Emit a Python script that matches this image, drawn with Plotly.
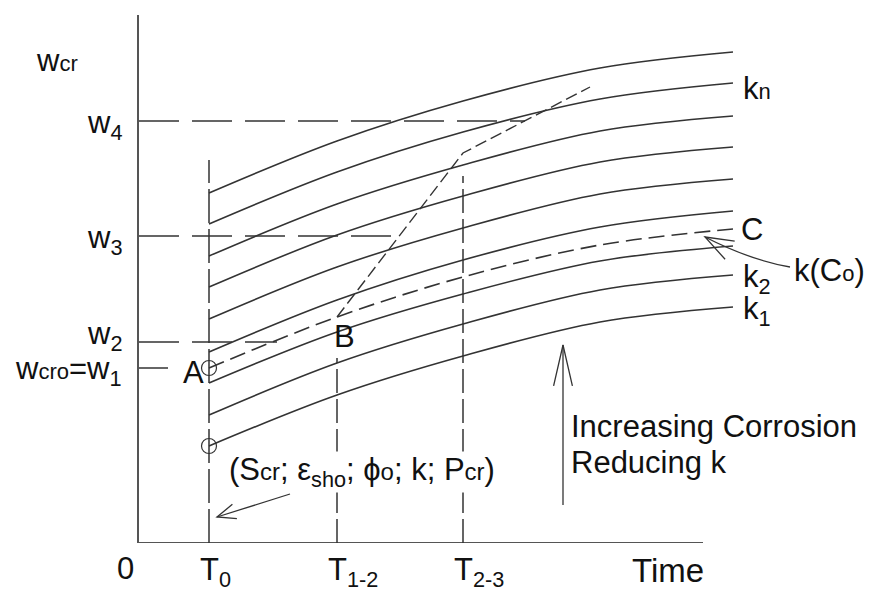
import math
import plotly.graph_objects as go

# Time stations along each crack-width curve (T0 ... end of curves)
time_pts = [70, 198, 324, 461, 594]

# Crack width w_cr(t) for each corrosion level, bottom (k1) to top
k_1 = [97, 148, 187, 221, 236]
k_2 = [128, 180, 219, 253, 268]
k_3 = [160, 211, 249, 282, 297]
k_co = [175, 226, 266, 298, 314]   # initial corrosion level k(Co), dashed
k_4 = [191, 243, 283, 316, 332]
k_5 = [224, 276, 315, 349, 364]
k_6 = [256, 308, 347, 381, 396]
k_7 = [287, 339, 378, 412, 427]
k_n = [319, 371, 411, 444, 460]
k_top = [350, 402, 442, 475, 491]
solid_curves = [k_1, k_2, k_3, k_4, k_5, k_6, k_7, k_n, k_top]

# Characteristic times and crack widths
T0, T12, T23 = 70, 198, 324
w1, w2, w3, w4 = 175, 201, 307, 422

# Crack-width path B -> kink at T2-3 -> upper end
path_t = [198, 324, 451]
path_w = [226, 390, 456]

# Initial points on T0 (A on k(Co), lowest curve k1)
start_t = [T0, T0]
start_w = [k_co[0], k_1[0]]

FONT = "Liberation Sans, Arial, sans-serif"
INK = "#333333"
AXIS = "#555555"
TXT = "#111111"
FS = 31
SMALL = 22

X_SPAN = 732.0   # x axis range width
Y_SPAN = 528.0   # y axis range height

fig = go.Figure()

for ys in solid_curves:
    fig.add_trace(go.Scatter(x=time_pts, y=ys, mode="lines",
                             line=dict(color=INK, width=1.6, shape="spline", smoothing=1.0),
                             hoverinfo="skip", showlegend=False))

fig.add_trace(go.Scatter(x=time_pts, y=k_co, mode="lines",
                         line=dict(color=INK, width=1.6, shape="spline", smoothing=1.0,
                                   dash="16px,7px"),
                         hoverinfo="skip", showlegend=False))

fig.add_trace(go.Scatter(x=path_t, y=path_w, mode="lines",
                         line=dict(color=INK, width=1.4, dash="12px,5px"),
                         hoverinfo="skip", showlegend=False))

fig.add_trace(go.Scatter(x=start_t, y=start_w, mode="markers",
                         marker=dict(symbol="circle-open", size=15,
                                     line=dict(color=INK, width=1.2), color=INK),
                         hoverinfo="skip", showlegend=False, cliponaxis=False))

shapes = []


def seg(x0, y0, x1, y1, dash=None, width=1.5, color=INK):
    line = dict(color=color, width=width)
    if dash:
        line["dash"] = dash
    shapes.append(dict(type="line", xref="x", yref="y", x0=x0, y0=y0, x1=x1, y1=y1,
                       line=line, layer="above"))


def v_head(tip, tail, length, half_angle_deg):
    """Open V arrowhead at tip, pointing away from tail."""
    dx, dy = tip[0] - tail[0], tip[1] - tail[1]
    n = math.hypot(dx, dy)
    ux, uy = dx / n, dy / n
    a = math.radians(half_angle_deg)
    pts = []
    for s in (1, -1):
        ca, sa = math.cos(s * a), math.sin(s * a)
        rx = ux * ca - uy * sa
        ry = ux * sa + uy * ca
        pts.append((tip[0] - length * rx, tip[1] - length * ry))
    path = "M {:.1f},{:.1f} L {:.1f},{:.1f} L {:.1f},{:.1f}".format(
        pts[0][0], pts[0][1], tip[0], tip[1], pts[1][0], pts[1][1])
    shapes.append(dict(type="path", xref="x", yref="y", path=path,
                       line=dict(color=INK, width=1.3), layer="above"))


# x axis (time)
seg(0, 0, 564, 0, width=2.2, color=AXIS)

# Horizontal reference levels
seg(0, w4, 386, w4, dash="40px,13px")
seg(0, w3, 261, w3, dash="40px,13px")
seg(0, w2, 138, w2, dash="40px,13px")
seg(0, w1, 29, w1)

# Vertical time markers
seg(T0, 0, T0, 383, dash="34px,6px")
seg(T12, 0, T12, 185, dash="24px,6px")
seg(T23, 0, T23, 367, dash="24px,6px")

# Arrow pointing to T0 from the parameter list
seg(151, 49, 78, 26, width=1.3)
v_head((78, 26), (151, 49), 20, 22)

# Increasing-corrosion arrow
seg(424, 38, 424, 198, width=1.3)
v_head((424, 198), (424, 38), 42, 13)

# Curved leader from k(Co) to the dashed curve
shapes.append(dict(type="path", xref="x", yref="y",
                   path="M 651,276 Q 611,283 566,306",
                   line=dict(color=INK, width=1.3), layer="above"))
v_head((566, 306), (600, 288), 30, 20)

fig.update_layout(shapes=shapes)

ann = []


def label(x, y, text, xanchor="center", size=FS, xshift=0, yshift=0,
          xref="x", yref="y", bg=None):
    if xref == "paper":
        x = x / X_SPAN
    if yref == "paper":
        y = y / Y_SPAN
    a = dict(x=x, y=y, xref=xref, yref=yref, text=text, showarrow=False,
             xanchor=xanchor, yanchor="middle", xshift=xshift, yshift=yshift,
             borderpad=0,
             font=dict(family=FONT, size=size, color=TXT))
    if bg:
        a["bgcolor"] = bg
    ann.append(a)


sm = "<span style='font-size:%dpx'>%s</span>"

# Crack-width levels on the vertical axis
label(-82, 483, "w" + sm % (SMALL, "cr"), xref="paper")
label(-16, 418, "w<sub>4</sub>", xanchor="right", xref="paper")
label(-16, 303, "w<sub>3</sub>", xanchor="right", xref="paper")
label(-16, 207, "w<sub>2</sub>", xanchor="right", xref="paper")
label(-16, 172, "w" + sm % (SMALL, "cro") + "=w<sub>1</sub>", xanchor="right", xref="paper")

# Points and curve names
label(54, 171, "A")
label(205, 207, "B")
label(601, 314, "C", xanchor="left")
label(603, 455, "k" + sm % (SMALL, "n"), xanchor="left")
label(603, 264, "k<sub>2</sub>", xanchor="left")
label(603, 232, "k<sub>1</sub>", xanchor="left")
label(727, 273, "k(C" + sm % (SMALL, "o") + ")", xanchor="right")
label(89, 71, "(S" + sm % (24, "cr") + "; ε<sub>sho</sub>; ϕ" + sm % (24, "o")
      + "; k; P" + sm % (24, "cr") + ")", xanchor="left", size=31, bg="white")
label(431, 117, "Increasing Corrosion", xanchor="left")
label(431, 81, "Reducing k", xanchor="left")

# Time axis labels
label(-14, -25, "0", xref="paper", yref="paper")
label(T0, -29, "T<sub>0</sub>", xanchor="left", xshift=-10, yref="paper")
label(T12, -29, "T<sub>1-2</sub>", xanchor="left", xshift=-10, yref="paper")
label(T23, -29, "T<sub>2-3</sub>", xanchor="left", xshift=-10, yref="paper")
label(529, -27, "Time", yref="paper", size=33)

fig.update_layout(annotations=ann)

fig.update_xaxes(range=[0, X_SPAN], visible=False, showgrid=False, zeroline=False)
fig.update_yaxes(range=[0, Y_SPAN], showline=True, linecolor=AXIS, linewidth=2.2,
                 showgrid=False, zeroline=False, ticks="", showticklabels=False)

fig.update_layout(width=871, height=592,
                  margin=dict(l=139, r=0, t=15, b=49, pad=0),
                  paper_bgcolor="white", plot_bgcolor="white",
                  showlegend=False, hovermode=False)

fig.write_html("out.html")
